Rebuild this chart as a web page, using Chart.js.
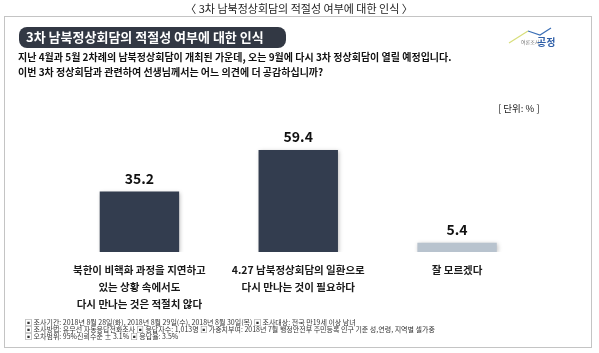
<!DOCTYPE html>
<html>
<head>
<meta charset="utf-8">
<script src="https://cdn.jsdelivr.net/npm/chart.js@4.4.1/dist/chart.umd.min.js"></script>
<style>
  body { margin: 0; background: #fff; }
  canvas { display: block; }
</style>
</head>
<body>
<canvas id="chart" width="599" height="353"></canvas>
<script>
const FONT = "'Noto Sans CJK KR', 'Noto Sans', sans-serif";

// 데이터
const categories = [
    ['북한이 비핵화 과정을 지연하고', '있는 상황 속에서도', '다시 만나는 것은 적절치 않다'],
    ['4.27 남북정상회담의 일환으로', '다시 만나는 것이 필요하다'],
    ['잘 모르겠다']
];
const values = [35.2, 59.4, 5.4];
const barColors = ['#333d4f', '#333d4f', '#b8c3ce'];

const pageTitle = '〈 3차 남북정상회담의 적절성 여부에 대한 인식 〉';
const bannerTitle = '3차 남북정상회담의 적절성 여부에 대한 인식';
const questionLines = [
    '지난 4월과 5월 2차례의 남북정상회담이 개최된 가운데, 오는 9월에 다시 3차 정상회담이 열릴 예정입니다.',
    '이번 3차 정상회담과 관련하여 선생님께서는 어느 의견에 더 공감하십니까?'
];
const unitLabel = '[ 단위: % ]';
const footnotes = [
    '▣ 조사기간: 2018년 8월 28일(화), 2018년 8월 29일(수), 2018년 8월 30일(목) ▣ 조사대상: 전국 만19세 이상 남녀',
    '▣ 조사방법: 유무선 자동응답전화조사 ▣ 응답자수: 1,013명 ▣ 가중치부여: 2018년 7월 행정안전부 주민등록 인구 기준 성,연령, 지역별 셀가중',
    '▣ 오차범위: 95%신뢰수준 ± 3.1% ▣ 응답율: 3.5%'
];

// 배경, 제목, 박스 등
const decorPlugin = {
    id: 'decor',
    beforeDraw(chart) {
        const ctx = chart.ctx
        ctx.save()
        ctx.fillStyle = '#fff'
        ctx.fillRect(0, 0, chart.width, chart.height)

        ctx.fillStyle = '#222'
        ctx.font = '11px ' + FONT
        ctx.textAlign = 'center'
        ctx.textBaseline = 'middle'
        ctx.fillText(pageTitle, 299, 9)

        ctx.strokeStyle = '#c4c4c4'
        ctx.lineWidth = 1
        ctx.strokeRect(4.5, 16.5, 587, 331)

        // 배너
        ctx.fillStyle = '#323844'
        ctx.beginPath()
        ctx.roundRect(19, 27, 267, 21, 8)
        ctx.fill()
        ctx.fillStyle = '#fff'
        ctx.font = 'bold 13px ' + FONT
        ctx.textAlign = 'left'
        ctx.fillText(bannerTitle, 26, 37.5)

        // 질문
        ctx.fillStyle = '#111'
        ctx.font = 'bold 10px ' + FONT
        questionLines.forEach((t, i) => ctx.fillText(t, 18, 57 + i * 15))

        // 로고
        ctx.lineWidth = 1.2
        ctx.strokeStyle = '#d7de7a'
        ctx.beginPath(); ctx.moveTo(509, 43); ctx.lineTo(528, 31); ctx.stroke()
        ctx.strokeStyle = '#3b6fb6'
        ctx.beginPath(); ctx.moveTo(528, 31); ctx.lineTo(540, 35); ctx.lineTo(551, 28); ctx.stroke()
        ctx.fillStyle = '#777'
        ctx.font = '5px ' + FONT
        ctx.fillText('여론조사', 521, 42)
        ctx.fillStyle = '#2f5fa8'
        ctx.font = 'bold 10px ' + FONT
        ctx.fillText('공정', 537, 42)

        // 단위
        ctx.fillStyle = '#222'
        ctx.font = '9.5px ' + FONT
        ctx.fillText(unitLabel, 498, 108)

        // 각주
        ctx.fillStyle = '#333'
        ctx.font = '7px ' + FONT
        footnotes.forEach((t, i) => ctx.fillText(t, 25, 322 + i * 7))
        ctx.restore()
    },
    beforeDatasetsDraw(chart) {
        const ctx = chart.ctx
        ctx.save()
        ctx.shadowColor = 'rgba(0,0,0,0.25)'
        ctx.shadowBlur = 4
        ctx.shadowOffsetX = 1
        ctx.shadowOffsetY = 1
    },
    afterDatasetsDraw(chart) {
        const ctx = chart.ctx
        ctx.restore()
        ctx.save()
        ctx.fillStyle = '#111'
        ctx.font = 'bold 14px ' + FONT
        ctx.textAlign = 'center'
        ctx.textBaseline = 'middle'
        chart.getDatasetMeta(0).data.forEach((bar, i) => {
            ctx.fillText(values[i].toFixed(1), bar.x, bar.y - 13)
        })
        ctx.restore()
    }
}

const data = {
    labels: categories,
    datasets: [{
        data: values,
        backgroundColor: barColors,
        borderWidth: 0,
        barPercentage: 0.5,
        categoryPercentage: 1.0
    }]
}

const options = {
    responsive: false,
    animation: false,
    devicePixelRatio: 1,
    layout: { padding: { left: 60, right: 62.5, top: 131.8, bottom: 0 } },
    plugins: { legend: { display: false }, tooltip: { enabled: false } },
    scales: {
        y: { display: false, min: 0, max: 70 },
        x: {
            grid: { display: false, drawTicks: false },
            border: { display: false },
            ticks: {
                padding: 10,
                color: '#1a1a1a',
                font: { family: FONT, size: 10.5, weight: 'bold', lineHeight: 1.6 }
            },
            afterFit: scale => { scale.height = 101 }
        }
    }
}

new Chart(document.getElementById('chart'), { type: 'bar', data, options, plugins: [decorPlugin] })
</script>
</body>
</html>
